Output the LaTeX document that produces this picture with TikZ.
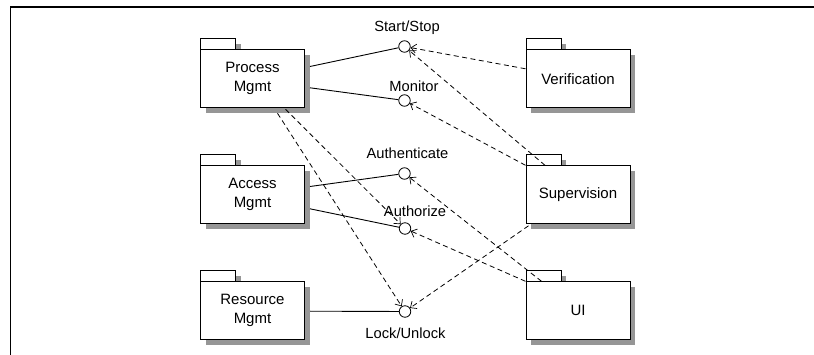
\documentclass[tikz,border=0pt]{standalone}
\usepackage{fontspec}
\setmainfont{Liberation Sans}
\usetikzlibrary{arrows.meta}
\definecolor{shadowgray}{RGB}{150,150,150}
\begin{document}
\begin{tikzpicture}[x=1pt,y=-1pt,
  pkgtab/.style={draw,line width=1pt,fill=white,minimum width=35pt,minimum height=11pt,inner sep=0pt,anchor=north west},
  pkgbox/.style={draw,line width=1pt,fill=white,minimum width=104pt,minimum height=58pt,inner sep=0pt,anchor=north west,align=center,font=\fontsize{15}{19}\selectfont},
  shadowfill/.style={fill=shadowgray},
  iface/.style={circle,draw,line width=0.8pt,fill=white,minimum size=11.5pt,inner sep=0pt},
  lbl/.style={font=\fontsize{14.7}{17}\selectfont,inner sep=0pt,anchor=base},
  assoc/.style={line width=0.9pt},
  dep/.style={line width=0.8pt,dash pattern=on 5pt off 3.5pt,-{Straight Barb[length=5pt,width=9pt,line width=0.7pt]}}
]
\useasboundingbox (0,0) rectangle (814,355);
\draw[line width=1.5pt] (10.7,355) -- (10.7,7) -- (814,7);

% shadows (drawn first, as plain shapes)
\fill[shadowfill] (206,44) rectangle (241,55);
\fill[shadowfill] (206,55) rectangle (310,113);
\fill[shadowfill] (206,160) rectangle (241,171);
\fill[shadowfill] (206,171) rectangle (310,229);
\fill[shadowfill] (206,276) rectangle (241,287);
\fill[shadowfill] (206,287) rectangle (310,345);
\fill[shadowfill] (531,44) rectangle (566,55);
\fill[shadowfill] (531,55) rectangle (635,113);
\fill[shadowfill] (531,160) rectangle (566,171);
\fill[shadowfill] (531,171) rectangle (635,229);
\fill[shadowfill] (531,276) rectangle (566,287);
\fill[shadowfill] (531,287) rectangle (635,345);

% packages, left column
\node[pkgtab] (pmt) at (200,38.3) {};
\node[pkgbox] (pm) at (200,49.3) {Process\\Mgmt};
\node[pkgtab] (amt) at (200,154.3) {};
\node[pkgbox] (am) at (200,165.3) {Access\\Mgmt};
\node[pkgtab] (rmt) at (200,270.3) {};
\node[pkgbox] (rm) at (200,281.3) {Resource\\Mgmt};
% packages, right column
\node[pkgtab] (vert) at (525.5,38.3) {};
\node[pkgbox] (ver) at (525.5,49.3) {Verification};
\node[pkgtab] (supt) at (525.5,154.3) {};
\node[pkgbox] (sup) at (525.5,165.3) {Supervision};
\node[pkgtab] (uit) at (525.5,270.3) {};
\node[pkgbox] (ui) at (525.5,281.3) {UI};

% interfaces
\node[iface] (ss) at (404.5,46.5) {};
\node[iface] (mo) at (404.5,100.5) {};
\node[iface] (au) at (404.5,173.5) {};
\node[iface] (az) at (405,228.5) {};
\node[iface] (lu) at (405,311.5) {};
\node[lbl] (lss) at (407,31.7) {Start/Stop};
\node[lbl] (lmo) at (414,91.5) {Monitor};
\node[lbl] (lau) at (407.5,158.3) {Authenticate};
\node[lbl] (laz) at (415,216.7) {Authorize};
\node[lbl] (llu) at (405.5,338.3) {Lock/Unlock};

% realizations (solid)
\draw[assoc] ([shift={(5,-12.3)}]pm.east) -- (ss);
\draw[assoc] ([shift={(5,9)}]pm.east) -- (mo);
\draw[assoc] ([shift={(5,-8.3)}]am.east) -- (au);
\draw[assoc] ([shift={(5,14)}]am.east) -- (az);
\draw[assoc] ([shift={(5,0.4)}]rm.east) -- (lu);

% dependencies (dashed)
\draw[dep] ([shift={(0,-10)}]ver.west) -- (ss);
\draw[dep] ([shift={(19.5,0)}]sup.north west) -- (ss);
\draw[dep] (sup.north west) -- (mo);
\draw[dep] ([shift={(3,1.5)}]sup.south west) -- (lu);
\draw[dep] ([shift={(33,1)}]pm.south) -- (az);
\draw[dep] ([shift={(25,5)}]pm.south) -- (lu);
\draw[dep] ([shift={(16,0)}]ui.north west) -- (au);
\draw[dep] (ui.north west) -- (az);
\end{tikzpicture}
\end{document}
